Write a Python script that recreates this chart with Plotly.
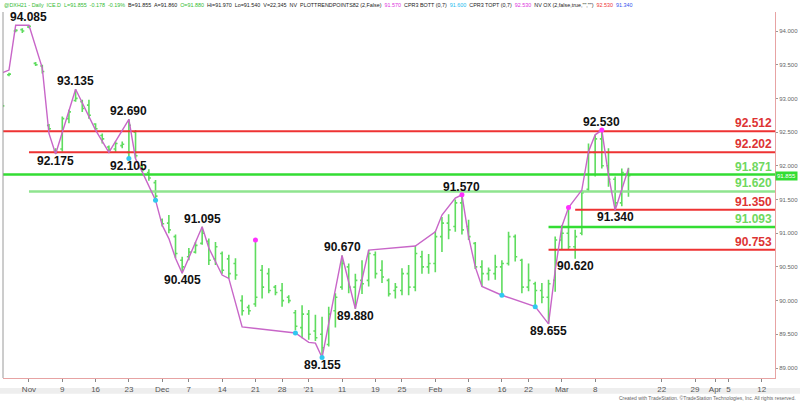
import pandas as pd
import plotly.graph_objects as go

# ---------------- data ----------------
holidays = ["2020-11-26", "2020-12-25", "2021-01-01", "2021-01-18", "2021-02-15"]

dates = ["2020-10-27","2020-10-28","2020-10-29","2020-10-30","2020-11-02","2020-11-03","2020-11-04",
         "2020-11-05","2020-11-06","2020-11-09","2020-11-10","2020-11-11","2020-11-12","2020-11-13",
         "2020-11-16","2020-11-17","2020-11-18","2020-11-19","2020-11-20","2020-11-23","2020-11-24",
         "2020-11-25","2020-11-27","2020-11-30","2020-12-01","2020-12-02","2020-12-03","2020-12-04",
         "2020-12-07","2020-12-08","2020-12-09","2020-12-10","2020-12-11","2020-12-14","2020-12-15",
         "2020-12-16","2020-12-17","2020-12-18","2020-12-21","2020-12-22","2020-12-23","2020-12-24",
         "2020-12-28","2020-12-29","2020-12-30","2020-12-31","2021-01-04","2021-01-05","2021-01-06",
         "2021-01-07","2021-01-08","2021-01-11","2021-01-12","2021-01-13","2021-01-14","2021-01-15",
         "2021-01-19","2021-01-20","2021-01-21","2021-01-22","2021-01-25","2021-01-26","2021-01-27",
         "2021-01-28","2021-01-29","2021-02-01","2021-02-02","2021-02-03","2021-02-04","2021-02-05",
         "2021-02-08","2021-02-09","2021-02-10","2021-02-11","2021-02-12","2021-02-16","2021-02-17",
         "2021-02-18","2021-02-19","2021-02-22","2021-02-23","2021-02-24","2021-02-25","2021-02-26",
         "2021-03-01","2021-03-02","2021-03-03","2021-03-04","2021-03-05","2021-03-08","2021-03-09",
         "2021-03-10","2021-03-11","2021-03-12","2021-03-15"]
opens = [92.92,93.35,94.00,94.02,94.06,93.52,93.48,92.60,92.22,92.25,92.70,92.97,92.95,92.90,
         92.62,92.45,92.28,92.25,92.30,92.20,92.50,91.99,91.90,91.75,91.20,91.15,90.95,90.60,
         90.65,90.72,90.85,90.88,90.62,90.70,90.62,90.55,90.00,89.90,89.95,90.45,90.40,90.20,
         90.15,90.05,89.82,89.60,89.80,89.55,89.50,89.35,89.85,90.20,90.50,90.20,90.30,90.30,
         90.68,90.45,90.30,90.15,90.15,90.40,90.20,90.65,90.50,90.55,90.95,91.15,91.10,91.45,
         91.10,90.85,90.50,90.40,90.40,90.50,90.55,90.95,90.60,90.20,90.25,90.15,90.05,90.30,
         90.90,91.00,90.80,91.00,91.65,92.20,92.40,92.00,91.80,91.45,91.88]
highs = [92.94,93.38,94.03,94.04,94.085,93.54,93.50,92.62,92.26,92.73,92.83,93.135,92.98,92.98,
         92.63,92.48,92.30,92.36,92.36,92.69,92.53,92.01,91.95,91.79,91.22,91.27,90.98,90.65,
         90.78,90.87,91.095,90.92,90.87,90.73,90.68,90.63,90.08,89.94,90.90,90.53,90.48,90.23,
         90.26,90.08,89.86,89.93,89.86,89.79,89.76,89.91,90.11,90.67,90.55,90.40,90.60,90.75,
         90.73,90.60,90.33,90.26,90.48,90.53,90.81,90.74,90.69,91.03,91.24,91.28,91.50,91.57,
         91.20,90.87,90.60,90.49,90.68,90.60,91.02,90.98,90.62,90.55,90.28,90.26,90.31,90.95,
         91.12,91.39,91.05,91.64,92.33,92.46,92.53,92.26,91.84,91.96,91.97]
lows = [92.86,93.33,93.98,93.97,94.04,93.48,93.37,92.53,92.175,92.21,92.63,92.95,92.80,92.70,
        92.53,92.33,92.20,92.20,92.26,92.105,92.11,91.91,91.78,91.49,91.10,91.00,90.63,90.405,
        90.60,90.70,90.83,90.53,90.53,90.40,90.33,90.31,89.78,89.79,89.91,90.03,90.11,90.08,
        89.91,89.96,89.56,89.44,89.42,89.40,89.155,89.32,89.60,90.16,90.11,89.88,90.10,90.21,
        90.33,90.26,90.06,90.03,90.08,90.08,90.14,90.40,90.40,90.42,90.72,90.91,91.02,90.98,
        90.90,90.47,90.21,90.30,90.31,90.10,90.52,90.58,90.11,90.14,89.88,89.96,89.655,90.13,
        90.75,90.75,90.62,90.97,91.62,91.84,91.96,91.69,91.34,91.40,91.54]
closes = [92.89,93.36,94.01,94.00,94.07,93.50,93.40,92.55,92.20,92.70,92.80,93.00,92.85,92.75,
          92.55,92.40,92.24,92.33,92.32,92.60,92.15,91.93,91.82,91.55,91.14,91.05,90.70,90.50,
          90.72,90.82,91.00,90.60,90.80,90.45,90.40,90.38,89.85,89.85,90.05,90.20,90.15,90.12,
          90.00,90.00,89.62,89.80,89.50,89.45,89.30,89.80,90.05,90.55,90.20,90.30,90.25,90.70,
          90.40,90.35,90.10,90.20,90.40,90.20,90.70,90.50,90.55,90.95,91.15,91.05,91.45,91.05,
          90.95,90.50,90.40,90.45,90.50,90.55,90.95,90.65,90.20,90.30,90.15,90.05,90.25,90.90,
          91.00,90.80,90.95,91.60,92.20,92.40,92.00,91.80,91.45,91.90,91.855]

zz_dates = ["2020-10-26","2020-10-28","2020-10-29","2020-11-02","2020-11-04","2020-11-05","2020-11-06",
            "2020-11-11","2020-11-16","2020-11-18","2020-11-23","2020-11-24","2020-11-25","2020-11-30",
            "2020-12-01","2020-12-02","2020-12-03","2020-12-04","2020-12-09","2020-12-10","2020-12-14",
            "2020-12-15","2020-12-17","2020-12-30","2021-01-04","2021-01-05","2021-01-06","2021-01-11",
            "2021-01-13","2021-01-15","2021-01-27","2021-02-01","2021-02-02","2021-02-04","2021-02-05",
            "2021-02-08","2021-02-09","2021-02-10","2021-02-16","2021-02-23","2021-02-25","2021-02-26",
            "2021-03-01","2021-03-02","2021-03-04","2021-03-05","2021-03-08","2021-03-09","2021-03-10",
            "2021-03-11","2021-03-15"]
zz_values = [93.34,93.42,94.085,94.085,93.45,92.48,92.175,93.135,92.53,92.20,92.69,92.105,91.91,91.49,
             91.12,90.92,90.63,90.405,91.095,90.78,90.38,90.33,89.61,89.52,89.38,89.37,89.155,90.67,
             89.88,90.75,90.81,91.02,91.27,91.52,91.57,90.95,90.50,90.21,90.08,89.91,89.655,90.45,
             91.10,91.38,91.64,92.21,92.46,92.53,91.86,91.34,91.96]

magenta_dates = ["2020-12-21", "2021-02-05", "2021-03-02", "2021-03-09"]
magenta_values = [90.90, 91.57, 91.38, 92.53]
cyan_dates = ["2020-11-23", "2020-11-30", "2020-12-30", "2021-01-06", "2021-02-16", "2021-02-23"]
cyan_values = [92.11, 91.49, 89.52, 89.155, 90.08, 89.91]

swing_dates = ["2020-11-02","2020-11-06","2020-11-11","2020-11-23","2020-11-23","2020-12-04","2020-12-09",
               "2021-01-06","2021-01-11","2021-01-13","2021-02-05","2021-02-25","2021-03-03","2021-03-09",
               "2021-03-11"]
swing_values = [94.085,92.175,93.135,92.690,92.105,90.405,91.095,89.155,90.670,89.880,91.570,89.655,
                90.620,92.530,91.340]
swing_is_high = [True,False,True,True,False,False,True,False,True,False,True,False,False,True,False]

level_values = [92.512, 92.202, 91.871, 91.620, 91.350, 91.093, 90.753]
level_kinds = ["r", "r", "g", "g2", "r", "g", "r"]
level_starts = ["2020-10-26", "2020-11-02", "2020-10-26", "2020-11-02", "2021-03-03", "2021-02-25", "2021-02-25"]

tick_dates = ["2020-11-02","2020-11-09","2020-11-16","2020-11-23","2020-12-01","2020-12-07","2020-12-14",
              "2020-12-21","2020-12-28","2021-01-04","2021-01-11","2021-01-19","2021-01-25","2021-02-01",
              "2021-02-08","2021-02-16","2021-02-22","2021-03-01","2021-03-08","2021-03-22","2021-03-29",
              "2021-04-01","2021-04-05","2021-04-12"]
tick_labels = ["Nov","9","16","23","Dec","7","14","21","28","'21","11","19","25","Feb","8","16","22",
               "Mar","8","22","29","Apr","5","12"]

last_price = 91.855

# ---------------- trading-day axis ----------------
cal = [d.strftime("%Y-%m-%d") for d in pd.bdate_range("2020-10-19", "2021-04-23")
       if d.strftime("%Y-%m-%d") not in holidays]
pos = {d: i for i, d in enumerate(cal)}
origin = pos["2020-11-02"]
def xi(d):
    return pos[d] - origin

x_range = [-3.9, 112.0]
y_range = [88.852, 94.282]

BAR = "#5fdc5f"
FONT = "Liberation Sans, Arial"
fig = go.Figure()

fig.add_trace(go.Ohlc(
    x=[xi(d) for d in dates], open=opens, high=highs, low=lows, close=closes,
    increasing=dict(line=dict(color=BAR, width=1.6)),
    decreasing=dict(line=dict(color=BAR, width=1.6)),
    tickwidth=0.3, hoverinfo="skip", showlegend=False))

level_style = {"r": ("#ee3333", 2.0, "#dd3333"),
               "g": ("#33dd33", 2.6, "#6fd860"),
               "g2": ("#8fe48f", 2.6, "#6fd860")}
for v, k, s in zip(level_values, level_kinds, level_starts):
    col, w, _ = level_style[k]
    fig.add_trace(go.Scatter(x=[xi(s), x_range[1]], y=[v, v], mode="lines",
                             line=dict(color=col, width=w), hoverinfo="skip", showlegend=False))

fig.add_trace(go.Scatter(x=[xi(d) for d in zz_dates], y=zz_values, mode="lines",
                         line=dict(color="#c866c8", width=1.4), hoverinfo="skip", showlegend=False))
fig.add_trace(go.Scatter(x=[xi(d) for d in magenta_dates], y=magenta_values, mode="markers",
                         marker=dict(color="#ff30ff", size=5), hoverinfo="skip", showlegend=False))
fig.add_trace(go.Scatter(x=[xi(d) for d in cyan_dates], y=cyan_values, mode="markers",
                         marker=dict(color="#30c8f0", size=5), hoverinfo="skip", showlegend=False))

annotations = []
for d, v, hi in zip(swing_dates, swing_values, swing_is_high):
    annotations.append(dict(x=xi(d), y=v, xref="x", yref="y", text=f"<b>{v:.3f}</b>", showarrow=False,
                            xanchor="center", yanchor="middle", yshift=(8 if hi else -7),
                            font=dict(family=FONT, size=12, color="#111111")))
for v, k in zip(level_values, level_kinds):
    annotations.append(dict(x=1, y=v, xref="paper", yref="y", text=f"<b>{v:.3f}</b>", showarrow=False,
                            xanchor="right", yanchor="middle", xshift=-1, yshift=8,
                            font=dict(family=FONT, size=12, color=level_style[k][2])))

annotations.append(dict(x=1, y=last_price, xref="paper", yref="y", text=f"{last_price:.3f}",
                        showarrow=False, xanchor="left", yanchor="middle", bgcolor="#33dd33",
                        borderpad=1, font=dict(family=FONT, size=6, color="#ffffff")))

header = ('<span style="color:#33bb33">@DXH21 - Daily  ICE.D  L=91.855  -0.178  -0.19%</span>  '
          'B=91.855  A=91.860  <span style="color:#33bb33">O=91.880</span>  Hi=91.970  Lo=91.540  '
          'V=22,345  NV  PLOTTRENDPOINTS82 (2,False)  <span style="color:#dd33dd">91.570</span>  '
          'CPR3 BOTT (0,7)  <span style="color:#22bbee">91.600</span>  CPR3 TOPT (0,7)  '
          '<span style="color:#dd33dd">92.530</span>  NV OX (2,false,true,"","")  '
          '<span style="color:#ee3333">92.530</span>  <span style="color:#3355ee">91.340</span>')
annotations.append(dict(x=0, y=1, xref="paper", yref="paper", text=header, showarrow=False,
                        xanchor="left", yanchor="bottom", yshift=2, xshift=-1,
                        font=dict(family=FONT, size=5.4, color="#222222")))
annotations.append(dict(x=1.03, y=0, xref="paper", yref="paper",
                        text="Created with TradeStation. ©TradeStation Technologies, Inc. All rights reserved.",
                        showarrow=False, xanchor="right", yanchor="top", yshift=-15,
                        font=dict(family=FONT, size=5, color="#666666")))

shapes = [
    dict(type="rect", xref="paper", yref="paper", x0=-0.004, x1=1.033, y0=-0.0275, y1=-0.043,
         fillcolor="#eeeeee", line=dict(width=0), layer="below"),
    dict(type="line", xref="paper", yref="paper", x0=0, x1=0, y0=0, y1=1,
         line=dict(color="#9a9a9a", width=1)),
]

fig.update_layout(
    width=800, height=401,
    margin=dict(l=3, r=25, t=12, b=23, autoexpand=False),
    paper_bgcolor="white", plot_bgcolor="white",
    showlegend=False,
    annotations=annotations, shapes=shapes,
    xaxis=dict(type="linear", range=x_range, rangeslider=dict(visible=False), automargin=False,
               tickvals=[xi(d) for d in tick_dates], ticktext=tick_labels,
               showgrid=False, zeroline=False, showline=True, linecolor="#e7a3a3", linewidth=1,
               ticks="outside", ticklen=3, tickcolor="#888888",
               tickfont=dict(family=FONT, size=8, color="#555555")),
    yaxis=dict(range=y_range, side="right", tickvals=[89 + 0.5 * i for i in range(11)], automargin=False,
               tickformat=".3f", showgrid=False, zeroline=False, showline=True,
               linecolor="#e7a3a3", linewidth=1, ticks="outside", ticklen=2, tickcolor="#999999",
               tickfont=dict(family=FONT, size=6, color="#666666")),
)

fig.write_html("out.html", config={"displayModeBar": False},
               post_script="document.body.style.margin='0px';document.body.style.padding='0px';")
